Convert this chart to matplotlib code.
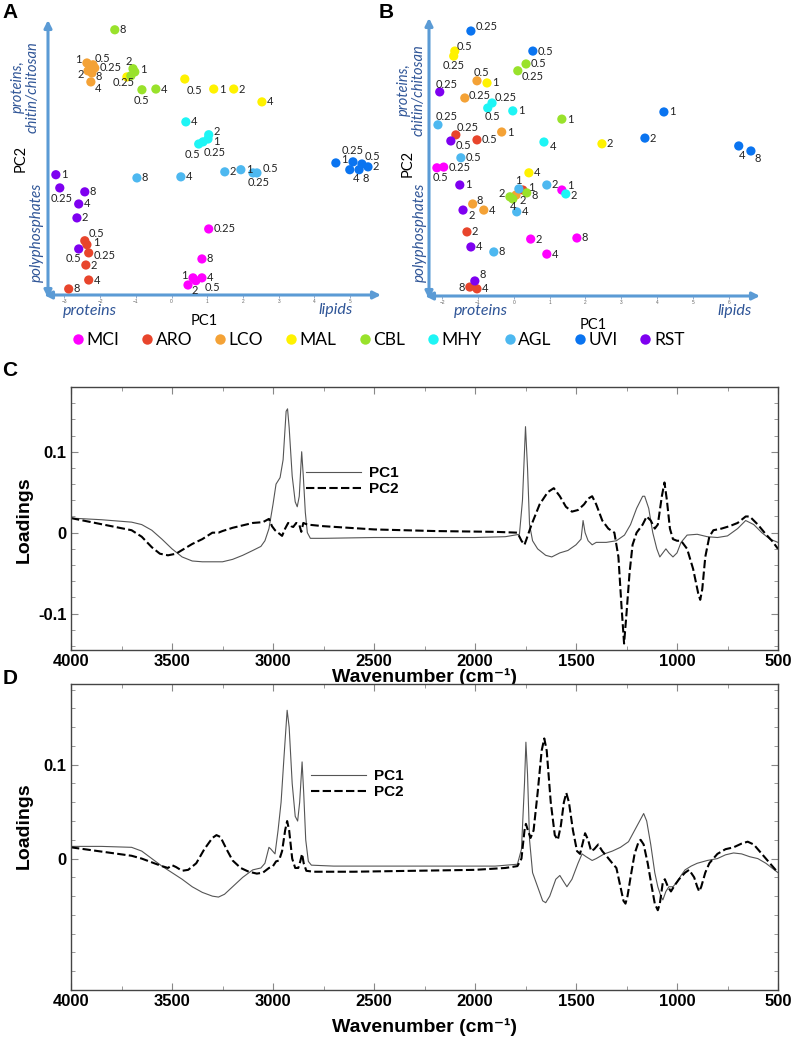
import numpy as np
import matplotlib.pyplot as plt
from matplotlib.lines import Line2D

plt.rcParams['font.family'] = ['Liberation Sans', 'DejaVu Sans']

W, H = 791, 1043

# --- PCA score data (panels A and B) ---
groups = ['MCI', 'ARO', 'LCO', 'MAL', 'CBL', 'MHY', 'AGL', 'UVI', 'RST']
group_colors = ['#FF00FF', '#E8452C', '#F4A236', '#FFF200', '#99E22B',
                '#1EF5F5', '#4DB8F0', '#0A74F0', '#7E00F0']

A_conc = {
    'MCI': [0.25, 0.5, 1, 2, 4, 8], 'ARO': [0.25, 0.5, 1, 2, 4, 8],
    'LCO': [0.25, 0.5, 1, 2, 4, 8], 'MAL': [0.25, 0.5, 1, 2, 4],
    'CBL': [0.25, 0.5, 1, 2, 4, 8], 'MHY': [0.25, 0.5, 1, 2, 4],
    'AGL': [0.25, 0.5, 1, 2, 4, 8], 'UVI': [0.25, 0.5, 1, 2, 4, 8],
    'RST': [0.25, 0.5, 1, 2, 4, 8],
}
A_pc1 = {
    'MCI': [1.04, 0.68, 0.60, 0.46, 0.85, 0.85],
    'ARO': [-2.32, -2.43, -2.37, -2.40, -2.32, -2.88],
    'LCO': [-2.15, -2.20, -2.37, -2.34, -2.26, -2.23],
    'MAL': [-1.25, 0.37, 1.18, 1.74, 2.53],
    'CBL': [-1.14, -0.83, -1.03, -1.08, -0.44, -1.59],
    'MHY': [0.88, 0.76, 1.02, 1.04, 0.40],
    'AGL': [2.28, 2.39, 1.94, 1.49, 0.26, -0.97],
    'UVI': [5.08, 5.33, 4.60, 5.50, 4.99, 5.25],
    'RST': [-3.13, -2.60, -3.24, -2.65, -2.60, -2.43],
}
A_pc2 = {
    'MCI': [-1.88, -3.33, -3.25, -3.45, -3.25, -2.72],
    'ARO': [-2.55, -2.21, -2.32, -2.89, -3.31, -3.56],
    'LCO': [2.63, 2.72, 2.77, 2.55, 2.24, 2.49],
    'MAL': [2.38, 2.32, 2.04, 2.04, 1.68],
    'CBL': [2.41, 2.02, 2.52, 2.61, 2.04, 3.70],
    'MHY': [0.56, 0.50, 0.64, 0.76, 1.12],
    'AGL': [-0.31, -0.31, -0.22, -0.28, -0.42, -0.45],
    'UVI': [0.00, -0.06, -0.03, -0.14, -0.22, -0.22],
    'RST': [-0.73, -2.44, -0.36, -1.57, -1.18, -0.84],
}

B_conc = A_conc
B_pc1 = {
    'MCI': [-1.96, -2.15, 1.34, 0.47, 0.92, 1.76],
    'ARO': [-1.62, -1.03, 0.25, -1.31, -1.03, -1.23],
    'LCO': [-1.37, -1.03, -0.34, 0.06, -0.84, -1.15],
    'MAL': [-1.68, -1.65, -0.75, 2.46, 0.42],
    'CBL': [0.11, 0.34, 1.34, -0.11, -0.03, 0.36],
    'MHY': [-0.61, -0.73, -0.03, 1.45, 0.84],
    'AGL': [-2.12, -1.48, 0.14, 0.92, 0.08, -0.56],
    'UVI': [-1.20, 0.53, 4.19, 3.66, 6.28, 6.62],
    'RST': [-2.07, -1.76, -1.51, -1.42, -1.20, -1.09],
}
B_pc2 = {
    'MCI': [-0.06, -0.08, -0.70, -2.07, -2.49, -2.04],
    'ARO': [0.84, 0.70, -0.70, -1.87, -3.46, -3.41],
    'LCO': [1.87, 2.35, 0.92, -0.84, -1.26, -1.09],
    'MAL': [3.04, 3.18, 2.29, 0.59, -0.22],
    'CBL': [2.63, 2.82, 1.28, -0.89, -0.95, -0.78],
    'MHY': [1.73, 1.59, 1.51, -0.81, 0.64],
    'AGL': [1.12, 0.20, -0.67, -0.56, -1.31, -2.43],
    'UVI': [3.74, 3.18, 1.48, 0.75, 0.53, 0.39],
    'RST': [2.04, 0.67, -0.56, -1.26, -2.29, -3.24],
}

# label placement (pixels offset, alignment) where it differs from "right of point"
A_label_pos = {
    ('LCO', 1): (-5, 3, 'right'), ('LCO', 0.5): (2, 6, 'left'),
    ('LCO', 2): (-4, -4, 'right'), ('LCO', 8): (4, -4, 'left'),
    ('LCO', 4): (4, -7, 'left'), ('CBL', 2): (-1, 7, 'right'),
    ('CBL', 1): (5, 2, 'left'), ('CBL', 0.25): (4, -7, 'right'),
    ('CBL', 0.5): (0, -11, 'center'), ('MAL', 0.5): (2, -11, 'left'),
    ('MHY', 0.5): (-6, -10, 'center'), ('MHY', 0.25): (12, -11, 'center'),
    ('MHY', 2): (5, 3, 'left'), ('MHY', 1): (5, -2, 'left'),
    ('AGL', 0.25): (6, -10, 'center'), ('AGL', 0.5): (6, 4, 'left'),
    ('UVI', 0.25): (0, 11, 'center'), ('UVI', 0.5): (3, 7, 'left'),
    ('UVI', 4): (6, -9, 'center'), ('UVI', 8): (7, -9, 'center'),
    ('UVI', 1): (5, 3, 'left'), ('RST', 0.25): (2, -11, 'center'),
    ('RST', 0.5): (-5, -10, 'center'), ('ARO', 0.5): (4, 7, 'left'),
    ('ARO', 1): (6, 2, 'left'), ('ARO', 0.25): (5, -3, 'left'),
    ('MCI', 1): (-5, 2, 'right'),
    ('MCI', 2): (4, -5, 'left'), ('MCI', 0.5): (9, -7, 'left'),
}
A_hidden = {('MAL', 0.25)}

B_label_pos = {
    ('UVI', 0.25): (5, 5, 'left'), ('MAL', 0.5): (2, 5, 'left'),
    ('MAL', 0.25): (0, -9, 'center'), ('CBL', 0.25): (4, -6, 'left'),
    ('LCO', 0.5): (-3, 8, 'left'), ('RST', 0.25): (-4, 7, 'left'),
    ('LCO', 0.25): (4, 2, 'left'), ('MHY', 0.25): (3, 5, 'left'),
    ('MHY', 0.5): (-3, -8, 'left'), ('AGL', 0.25): (-2, 8, 'left'),
    ('ARO', 0.25): (1, 7, 'left'), ('RST', 0.5): (5, -5, 'left'),
    ('MHY', 4): (6, -4, 'left'), ('MCI', 0.5): (4, -10, 'center'),
    ('UVI', 4): (3, -10, 'center'), ('UVI', 8): (7, -8, 'center'),
    ('ARO', 1): (5, 3, 'left'), ('AGL', 1): (-1, 8, 'center'),
    ('CBL', 2): (-5, 3, 'right'), ('LCO', 2): (7, -5, 'center'),
    ('CBL', 8): (5, -3, 'left'), ('CBL', 4): (0, -8, 'center'),
    ('MCI', 1): (5, 5, 'left'), ('MHY', 2): (5, -2, 'left'),
    ('LCO', 8): (4, 3, 'left'), ('RST', 2): (5, -5, 'left'),
    ('RST', 8): (5, 6, 'left'), ('ARO', 8): (-5, 0, 'right'),
}
B_hidden = set()

# --- loading spectra (panels C and D) ---
C_pc1_wn = [4000, 3850, 3700, 3650, 3600, 3550, 3500, 3450, 3400, 3350, 3300, 3250,
            3200, 3150, 3100, 3060, 3040, 3020, 3000, 2985, 2965, 2950, 2935, 2928,
            2920, 2905, 2890, 2880, 2870, 2858, 2850, 2840, 2830, 2815, 2750, 2500,
            2200, 2000, 1850, 1780, 1765, 1750, 1740, 1730, 1715, 1690, 1650, 1620,
            1580, 1540, 1500, 1475, 1465, 1455, 1440, 1420, 1400, 1350, 1300, 1260,
            1230, 1200, 1170, 1160, 1140, 1120, 1100, 1085, 1070, 1055, 1040, 1020,
            1000, 980, 950, 900, 850, 800, 750, 700, 660, 620, 580, 540, 500]
C_pc1 = [0.018, 0.016, 0.013, 0.010, 0.003, -0.008, -0.020, -0.030, -0.035, -0.036,
         -0.036, -0.036, -0.033, -0.028, -0.022, -0.017, -0.010, 0.005, 0.035, 0.060,
         0.068, 0.090, 0.150, 0.153, 0.130, 0.070, 0.038, 0.032, 0.045, 0.100, 0.070,
         0.025, 0.000, -0.007, -0.007, -0.006, -0.006, -0.006, -0.005, -0.002, 0.040,
         0.131, 0.080, 0.010, -0.010, -0.020, -0.028, -0.030, -0.025, -0.022, -0.015,
         -0.008, 0.015, 0.000, -0.010, -0.015, -0.012, -0.012, -0.010, -0.003, 0.010,
         0.030, 0.045, 0.045, 0.030, 0.000, -0.020, -0.030, -0.025, -0.020, -0.025,
         -0.030, -0.025, -0.012, -0.003, -0.002, -0.005, -0.006, -0.004, 0.005, 0.015,
         0.010, 0.000, -0.008, -0.012]

C_pc2_wn = [4000, 3900, 3800, 3700, 3650, 3600, 3560, 3520, 3480, 3440, 3400, 3350,
            3300, 3270, 3250, 3200, 3150, 3100, 3050, 3020, 3005, 2990, 2970, 2955,
            2940, 2925, 2910, 2900, 2885, 2870, 2860, 2850, 2830, 2750, 2500, 2200,
            1900, 1790, 1770, 1755, 1745, 1720, 1680, 1640, 1610, 1580, 1550, 1520,
            1490, 1460, 1440, 1420, 1400, 1370, 1340, 1310, 1290, 1275, 1262, 1250,
            1235, 1220, 1200, 1170, 1150, 1130, 1110, 1095, 1075, 1062, 1050, 1035,
            1020, 1000, 980, 950, 920, 895, 885, 875, 860, 840, 820, 780, 740, 700,
            660, 640, 600, 560, 530, 500]
C_pc2 = [0.018, 0.013, 0.008, 0.003, -0.005, -0.018, -0.026, -0.028, -0.026, -0.020,
         -0.014, -0.008, 0.000, 0.000, 0.002, 0.006, 0.009, 0.012, 0.013, 0.017, 0.008,
         0.003, -0.001, -0.004, 0.005, 0.012, 0.008, 0.007, 0.012, 0.010, 0.001, 0.012,
         0.010, 0.008, 0.004, 0.002, 0.001, 0.000, -0.010, -0.015, -0.008, 0.010, 0.035,
         0.050, 0.055, 0.045, 0.032, 0.026, 0.028, 0.035, 0.042, 0.045, 0.035, 0.015,
         0.005, 0.000, -0.030, -0.090, -0.137, -0.100, -0.050, -0.015, 0.000, 0.010,
         0.020, 0.015, 0.005, 0.010, 0.045, 0.062, 0.040, 0.005, -0.008, -0.010, -0.010,
         -0.020, -0.045, -0.075, -0.083, -0.070, -0.030, -0.005, 0.003, 0.005, 0.008,
         0.012, 0.020, 0.020, 0.010, -0.002, -0.010, -0.020]

D_pc1_wn = [4000, 3850, 3700, 3650, 3600, 3550, 3500, 3450, 3400, 3350, 3300, 3270,
            3240, 3200, 3150, 3100, 3060, 3040, 3020, 3010, 2990, 2975, 2960, 2945,
            2930, 2920, 2905, 2890, 2878, 2868, 2856, 2848, 2838, 2825, 2810, 2700,
            2400, 2100, 1900, 1790, 1770, 1755, 1748, 1740, 1730, 1715, 1690, 1665,
            1650, 1630, 1600, 1580, 1560, 1545, 1520, 1490, 1470, 1450, 1420, 1400,
            1360, 1320, 1280, 1240, 1210, 1180, 1165, 1150, 1130, 1110, 1095, 1080,
            1070, 1055, 1040, 1020, 1000, 980, 960, 930, 900, 850, 800, 760, 720, 680,
            640, 600, 560, 500]
D_pc1 = [0.013, 0.013, 0.012, 0.008, 0.000, -0.008, -0.015, -0.022, -0.030, -0.036,
         -0.040, -0.041, -0.038, -0.030, -0.020, -0.012, -0.010, -0.005, 0.012, 0.010,
         0.005, 0.030, 0.060, 0.110, 0.158, 0.140, 0.080, 0.045, 0.040, 0.060, 0.103,
         0.070, 0.020, -0.003, -0.007, -0.008, -0.008, -0.008, -0.008, -0.006, 0.010,
         0.080, 0.124, 0.090, 0.020, -0.015, -0.030, -0.045, -0.047, -0.040, -0.022,
         -0.018, -0.025, -0.030, -0.022, -0.005, 0.005, 0.002, -0.002, 0.000, 0.005,
         0.008, 0.012, 0.018, 0.030, 0.042, 0.048, 0.040, 0.015, -0.015, -0.030, -0.040,
         -0.044, -0.035, -0.030, -0.030, -0.025, -0.018, -0.012, -0.008, -0.005, -0.002,
         0.000, 0.004, 0.006, 0.005, 0.002, 0.000, -0.005, -0.015]

D_pc2_wn = [4000, 3900, 3800, 3700, 3650, 3600, 3550, 3520, 3500, 3480, 3450, 3420,
            3380, 3340, 3300, 3280, 3260, 3230, 3200, 3160, 3120, 3080, 3050, 3020,
            3000, 2985, 2970, 2955, 2940, 2930, 2920, 2905, 2890, 2875, 2865, 2856,
            2848, 2835, 2800, 2600, 2300, 2000, 1850, 1790, 1770, 1755, 1748, 1738,
            1725, 1710, 1690, 1670, 1657, 1645, 1625, 1605, 1590, 1575, 1560, 1548,
            1535, 1515, 1495, 1480, 1465, 1455, 1440, 1425, 1410, 1390, 1370, 1350,
            1320, 1300, 1280, 1265, 1255, 1245, 1230, 1210, 1190, 1180, 1165, 1145,
            1125, 1110, 1095, 1085, 1070, 1060, 1045, 1030, 1010, 990, 960, 940, 915,
            900, 890, 880, 860, 840, 800, 760, 720, 680, 650, 620, 580, 540, 500]
D_pc2 = [0.012, 0.009, 0.006, 0.003, 0.000, -0.004, -0.008, -0.010, -0.007, -0.009,
         -0.013, -0.012, -0.005, 0.010, 0.022, 0.025, 0.023, 0.010, -0.002, -0.010,
         -0.014, -0.016, -0.015, -0.010, -0.008, -0.003, -0.002, 0.008, 0.030, 0.040,
         0.030, 0.000, -0.010, -0.010, -0.003, 0.005, -0.005, -0.013, -0.014, -0.014,
         -0.013, -0.012, -0.010, -0.008, 0.000, 0.030, 0.037, 0.030, 0.022, 0.030,
         0.070, 0.115, 0.128, 0.115, 0.060, 0.025, 0.020, 0.035, 0.060, 0.070, 0.060,
         0.030, 0.008, 0.005, 0.018, 0.027, 0.020, 0.008, 0.010, 0.015, 0.008, 0.003,
         -0.005, -0.010, -0.030, -0.045, -0.048, -0.040, -0.020, 0.005, 0.018, 0.020,
         0.015, -0.005, -0.030, -0.048, -0.055, -0.048, -0.025, -0.022, -0.030, -0.035,
         -0.028, -0.022, -0.015, -0.012, -0.020, -0.030, -0.035, -0.030, -0.015, -0.005,
         0.005, 0.010, 0.012, 0.016, 0.018, 0.015, 0.005, -0.005, -0.015]

AXIS_BLUE = '#5B9BD5'
TEXT_BLUE = '#2F5597'

fig = plt.figure(figsize=(W / 100, H / 100), dpi=100)


def px_axes(l, t, r, b):
    return fig.add_axes([l / W, 1 - b / H, (r - l) / W, (b - t) / H])


# overlay in pixel coordinates for arrows and annotations
over = fig.add_axes([0, 0, 1, 1])
over.set_xlim(0, W)
over.set_ylim(H, 0)
over.axis('off')


def arrow(x0, y0, x1, y1):
    over.annotate('', xy=(x1, y1), xytext=(x0, y0),
                  arrowprops=dict(arrowstyle='<|-|>', color=AXIS_BLUE, lw=2.2,
                                  mutation_scale=11, shrinkA=0, shrinkB=0))


def draw_scores(box, xlim, ylim, xticks, conc, pc1, pc2, label_pos, hidden):
    ax = px_axes(*box)
    ax.set_xlim(*xlim)
    ax.set_ylim(*ylim)
    ax.patch.set_alpha(0)
    for s in ax.spines.values():
        s.set_visible(False)
    ax.set_yticks([])
    ax.set_xticks(xticks)
    ax.tick_params(axis='x', length=2, width=0.6, color='#7a9cc6', labelsize=3.5,
                   labelcolor='#666666', pad=1)
    for g, col in zip(groups, group_colors):
        ax.scatter(pc1[g], pc2[g], s=44, color=col, edgecolors='none', zorder=3)
        for c, x, y in zip(conc[g], pc1[g], pc2[g]):
            if (g, c) in hidden:
                continue
            dx, dy, ha = label_pos.get((g, c), (5, 0, 'left'))
            ax.annotate(f'{c:g}', (x, y), xytext=(dx, dy), textcoords='offset pixels',
                        ha=ha, va='center', fontsize=8, family='Lato', color='#222222',
                        zorder=4)
    return ax


draw_scores((48, 23, 378, 295), (-3.46, 5.78), (-3.73, 3.89), range(-3, 6),
            A_conc, A_pc1, A_pc2, A_label_pos, A_hidden)
draw_scores((429, 21, 757, 296), (-2.37, 6.79), (-3.66, 4.02), range(-2, 7),
            B_conc, B_pc1, B_pc2, B_label_pos, B_hidden)

# axis arrows and axis annotations of the score plots
arrow(48, 298, 48, 20)
arrow(44, 295, 381, 295)
arrow(429, 299, 429, 18)
arrow(425, 296, 760, 296)

ital = dict(family='Lato', style='italic', color=TEXT_BLUE, ha='center', va='center')
for x0, yv, xp, yp, xpc, ypc, xl, yl in [(25, 87, 37, 232, 21, 158, 90, 311),
                                          (411, 90, 420, 232, 408, 163, 481, 311)]:
    over.text(x0, yv, 'proteins,\nchitin/chitosan', rotation=90, linespacing=1.05,
              fontsize=10.5, **ital)
    over.text(xp, yp, 'polyphosphates', rotation=90, fontsize=11, **ital)
    over.text(xl, yl, 'proteins', fontsize=11.5, **ital)
    over.text(xpc, ypc, 'PC2', rotation=90, family='Lato', fontsize=10.5,
              ha='center', va='center')
over.text(336, 310, 'lipids', fontsize=11.5, **ital)
over.text(735, 311, 'lipids', fontsize=11.5, **ital)
over.text(204, 321, 'PC1', family='Lato', fontsize=10.5, ha='center', va='center')
over.text(593, 325, 'PC1', family='Lato', fontsize=10.5, ha='center', va='center')

over.text(10, 13, 'A', fontsize=15, fontweight='bold', ha='center', va='center')
over.text(386, 12, 'B', fontsize=15, fontweight='bold', ha='center', va='center')
over.text(10, 371, 'C', fontsize=15, fontweight='bold', ha='center', va='center')
over.text(10, 678, 'D', fontsize=15, fontweight='bold', ha='center', va='center')

# legend for score plots
handles = [Line2D([], [], marker='o', ls='', color=c, markersize=7.5, markeredgewidth=0)
           for c in group_colors]
leg = fig.legend(handles, groups, loc='center', bbox_to_anchor=(378 / W, 1 - 340 / H),
                 ncol=9, frameon=False, handlelength=0.7, handletextpad=0.15,
                 columnspacing=1.25, prop={'family': 'Lato', 'size': 12.5})


def draw_loadings(box, ylim, yticks, ylabels, wn1, v1, wn2, v2, leg_anchor):
    ax = px_axes(*box)
    ax.plot(wn1, v1, color='#555555', lw=0.8, label='PC1')
    ax.plot(wn2, v2, color='black', lw=1.5, ls=(0, (4, 1.6)), label='PC2')
    ax.set_xlim(4000, 500)
    ax.set_ylim(*ylim)
    ax.set_xticks(np.arange(4000, 499, -500))
    ax.set_xticks(np.arange(3750, 499, -500), minor=True)
    ax.set_yticks(yticks)
    ax.set_yticklabels(ylabels)
    ax.set_yticks(np.arange(-0.14, 0.19, 0.02), minor=True)
    ax.tick_params(which='both', direction='in', top=True, right=True, color='#888888',
                   labelsize=12, pad=3)
    ax.tick_params(which='major', length=5)
    ax.tick_params(which='minor', length=3)
    for lab in ax.get_xticklabels() + ax.get_yticklabels():
        lab.set_fontweight('bold')
    for s in ax.spines.values():
        s.set_color('#444444')
        s.set_linewidth(1)
    ax.legend(loc='upper left', bbox_to_anchor=leg_anchor, frameon=False,
              handlelength=3.6, handletextpad=0.5, labelspacing=0.15, borderaxespad=0,
              prop={'weight': 'bold', 'size': 11})
    return ax


axC = draw_loadings((71, 387, 778, 650), (-0.145, 0.158), [0.1, 0, -0.1],
                    ['0.1', '0', '-0.1'], C_pc1_wn, C_pc1, C_pc2_wn, C_pc2,
                    ((300 - 71) / 707, (650 - 460) / 263))
axD = draw_loadings((71, 684, 778, 990), (-0.1057, 0.186), [0.1, 0],
                    ['0.1', '0'], D_pc1_wn, D_pc1, D_pc2_wn, D_pc2,
                    ((305 - 71) / 707, (990 - 763) / 306))

lab = dict(fontsize=14, fontweight='bold', ha='center', va='center')
over.text(24, 520, 'Loadings', rotation=90, **lab)
over.text(24, 826, 'Loadings', rotation=90, **lab)
over.text(425, 677, 'Wavenumber (cm⁻¹)', **lab)
over.text(425, 1027, 'Wavenumber (cm⁻¹)', **lab)

fig.savefig('out.png', dpi=100)
